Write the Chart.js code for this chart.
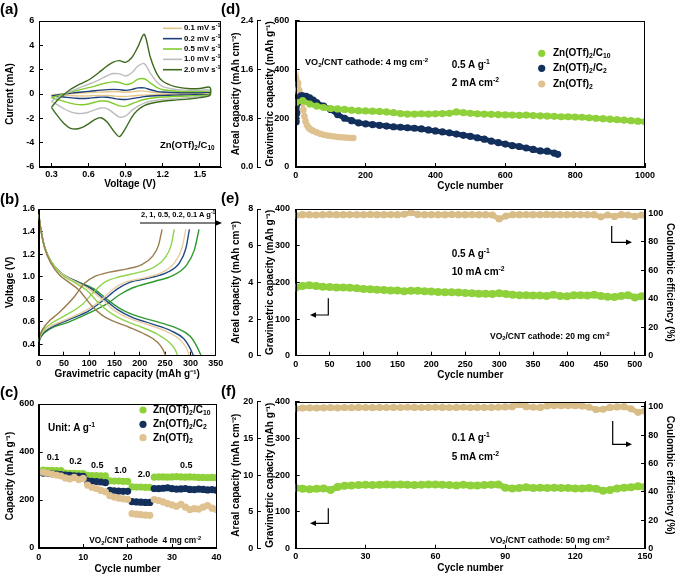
<!DOCTYPE html>
<html>
<head>
<meta charset="utf-8">
<script src="https://cdn.jsdelivr.net/npm/chart.js@4.4.1/dist/chart.umd.min.js"></script>
<style>
body { margin: 0; background: #fff; }
#fig { position: relative; width: 677px; height: 576px; overflow: hidden; font-family: "Liberation Sans", Arial, sans-serif; font-weight: bold; color: #000; }
#fig canvas { position: absolute; }
.t { position: absolute; line-height: 1; white-space: nowrap; transform: translateY(-50%); }
.t sub { font-size: .68em; vertical-align: -0.3em; line-height: 0; }
.t sup { font-size: .68em; vertical-align: 0.55em; line-height: 0; }
#ov { position: absolute; left: 0; top: 0; }
</style>
</head>
<body>
<div id="fig">
  <canvas id="ca" width="230" height="192" style="left:0;top:0"></canvas>
  <canvas id="cb" width="230" height="192" style="left:0;top:192px"></canvas>
  <canvas id="cc" width="230" height="192" style="left:0;top:384px"></canvas>
  <canvas id="cd" width="447" height="192" style="left:230px;top:0"></canvas>
  <canvas id="ce" width="447" height="192" style="left:230px;top:192px"></canvas>
  <canvas id="cf" width="447" height="192" style="left:230px;top:384px"></canvas>
  <svg id="ov" width="677" height="576"></svg>
</div>
<script>
const FONT = '"Liberation Sans", Arial, Helvetica, sans-serif';

/* COLOURS */
const GREEN = "#8fd13a";
const NAVY = "#13305c";
const TAN = "#dfc28f";

/* (a) CV DATA */
const aRates = ["0.1", "0.2", "0.5", "1.0", "2.0"];
const aColors = ["#e6c688", "#1d3f7c", "#80cc2c", "#bdbdbd", "#3d6b1d"];
const aTicksX = [0.3, 0.6, 0.9, 1.2, 1.5];
const aTicksY = [-6, -4, -2, 0, 2, 4, 6];
const aUpV = [0.3, 0.35, 0.4, 0.45, 0.5, 0.55, 0.6, 0.65, 0.7, 0.75, 0.8, 0.85, 0.9, 0.95, 1.0, 1.05, 1.1, 1.15, 1.2, 1.3, 1.4, 1.5, 1.58];
const aDnV = [1.58, 1.5, 1.4, 1.3, 1.2, 1.1, 1.05, 1.0, 0.95, 0.9, 0.85, 0.8, 0.75, 0.7, 0.65, 0.6, 0.55, 0.5, 0.45, 0.4, 0.35, 0.3];
const aUp01 = [-0.06, -0.03, 0.0, 0.03, 0.06, 0.09, 0.11, 0.14, 0.16, 0.18, 0.2, 0.18, 0.15, 0.19, 0.25, 0.24, 0.16, 0.1, 0.08, 0.06, 0.05, 0.05, 0.06];
const aDn01 = [-0.01, -0.02, -0.03, -0.04, -0.05, -0.07, -0.09, -0.12, -0.16, -0.2, -0.2, -0.16, -0.12, -0.11, -0.13, -0.15, -0.16, -0.15, -0.13, -0.1, -0.08, -0.06];
const aUp02 = [-0.15, -0.08, 0.0, 0.06, 0.12, 0.17, 0.22, 0.27, 0.32, 0.36, 0.38, 0.36, 0.3, 0.38, 0.5, 0.5, 0.35, 0.22, 0.16, 0.12, 0.1, 0.1, 0.12];
const aDn02 = [-0.03, -0.05, -0.07, -0.09, -0.12, -0.17, -0.22, -0.3, -0.38, -0.45, -0.43, -0.35, -0.27, -0.26, -0.3, -0.35, -0.37, -0.35, -0.3, -0.25, -0.2, -0.15];
const aUp05 = [-0.3, -0.15, 0.0, 0.15, 0.28, 0.4, 0.52, 0.65, 0.8, 0.92, 1.0, 0.95, 0.78, 0.9, 1.22, 1.25, 0.9, 0.55, 0.35, 0.25, 0.2, 0.2, 0.22];
const aDn05 = [-0.06, -0.12, -0.16, -0.2, -0.25, -0.35, -0.45, -0.6, -0.8, -1.0, -0.98, -0.78, -0.6, -0.58, -0.68, -0.82, -0.88, -0.85, -0.75, -0.6, -0.45, -0.3];
const aUp10 = [-0.6, -0.3, -0.05, 0.2, 0.4, 0.6, 0.8, 1.0, 1.25, 1.5, 1.68, 1.65, 1.48, 1.75, 2.3, 2.5, 1.7, 1.0, 0.6, 0.38, 0.3, 0.3, 0.32];
const aDn10 = [-0.12, -0.22, -0.3, -0.38, -0.45, -0.6, -0.75, -1.0, -1.35, -1.8, -1.9, -1.55, -1.2, -1.15, -1.3, -1.5, -1.6, -1.58, -1.45, -1.2, -0.9, -0.6];
const aUp20 = [-1.1, -0.5, -0.05, 0.35, 0.65, 0.9, 1.15, 1.5, 1.9, 2.3, 2.62, 2.74, 2.6, 3.0, 3.9, 4.9, 3.0, 1.7, 1.05, 0.6, 0.45, 0.45, 0.55];
const aDn20 = [-0.1, -0.3, -0.42, -0.5, -0.6, -0.78, -0.95, -1.3, -1.9, -2.8, -3.5, -3.0, -2.3, -1.95, -2.1, -2.45, -2.75, -2.88, -2.8, -2.4, -1.8, -1.1];

/* (b) GCD DATA  [capacity, voltage] */
const bLabels = ["2", "1", "0.5", "0.2", "0.1"];
const bColors = ["#9b7c4f", "#8fd44c", "#e8cca0", "#1f4a86", "#2e9a2e"];
const bTicksX = [0, 50, 100, 150, 200, 250, 300, 350];
const bTicksY = [0.4, 0.6, 0.8, 1.0, 1.2, 1.4, 1.6];
const bChg2 = [[0, 0.44], [4, 0.5], [15, 0.58], [40, 0.68], [70, 0.82], [90, 0.94], [110, 1.0], [140, 1.04], [175, 1.07], [205, 1.11], [225, 1.18], [237, 1.28], [244, 1.42]];
const bChg1 = [[0, 0.44], [5, 0.5], [20, 0.57], [50, 0.65], [85, 0.75], [110, 0.87], [130, 0.95], [160, 1.0], [200, 1.04], [230, 1.09], [250, 1.17], [262, 1.28], [268, 1.42]];
const bChg05 = [[0, 0.43], [5, 0.49], [20, 0.55], [60, 0.63], [100, 0.72], [125, 0.8], [150, 0.9], [170, 0.95], [210, 0.99], [245, 1.04], [268, 1.12], [283, 1.25], [291, 1.42]];
const bChg02 = [[0, 0.42], [5, 0.48], [20, 0.54], [60, 0.62], [100, 0.7], [130, 0.8], [155, 0.89], [180, 0.95], [220, 0.99], [255, 1.04], [278, 1.12], [291, 1.25], [298, 1.42]];
const bChg01 = [[0, 0.42], [5, 0.47], [20, 0.53], [60, 0.6], [100, 0.68], [135, 0.76], [160, 0.84], [185, 0.9], [230, 0.96], [265, 1.01], [292, 1.1], [308, 1.24], [317, 1.42]];
const bDis2 = [[0, 1.56], [5, 1.4], [12, 1.25], [24, 1.12], [42, 1.01], [60, 0.95], [80, 0.88], [105, 0.74], [125, 0.66], [145, 0.61], [180, 0.55], [210, 0.49], [235, 0.42], [245, 0.36], [251, 0.3]];
const bDis1 = [[0, 1.55], [5, 1.4], [12, 1.26], [25, 1.13], [45, 1.02], [70, 0.95], [95, 0.88], [120, 0.76], [145, 0.67], [170, 0.61], [205, 0.55], [235, 0.49], [258, 0.42], [269, 0.36], [275, 0.3]];
const bDis05 = [[0, 1.55], [5, 1.4], [12, 1.26], [25, 1.13], [45, 1.03], [75, 0.95], [100, 0.89], [125, 0.8], [150, 0.7], [180, 0.63], [220, 0.57], [255, 0.51], [280, 0.44], [292, 0.37], [298, 0.3]];
const bDis02 = [[0, 1.55], [5, 1.4], [12, 1.26], [25, 1.13], [45, 1.03], [78, 0.95], [105, 0.89], [130, 0.8], [155, 0.71], [185, 0.64], [225, 0.58], [262, 0.52], [287, 0.45], [299, 0.37], [306, 0.3]];
const bDis01 = [[0, 1.55], [5, 1.4], [12, 1.26], [25, 1.13], [45, 1.03], [80, 0.95], [110, 0.89], [135, 0.8], [160, 0.72], [195, 0.65], [235, 0.6], [275, 0.54], [300, 0.47], [313, 0.38], [321, 0.3]];

/* (c) RATE DATA */
const cCycles = [1, 2, 3, 4, 5, 6, 7, 8, 9, 10, 11, 12, 13, 14, 15, 16, 17, 18, 19, 20, 21, 22, 23, 24, 25, 26, 27, 28, 29, 30, 31, 32, 33, 34, 35, 36, 37, 38, 39, 40];
const cC10 = [325, 324, 324, 323, 323, 312, 311, 311, 310, 310, 303, 302, 302, 301, 301, 280, 279, 279, 278, 278, 255, 254, 254, 253, 253, 295, 296, 296, 295, 296, 297, 296, 295, 296, 295, 294, 294, 293, 294, 293];
const cC2 = [312, 311, 309, 308, 306, 304, 303, 301, 300, 299, 280, 278, 277, 275, 272, 240, 238, 237, 236, 236, 193, 192, 191, 190, 190, 248, 247, 249, 251, 247, 245, 246, 248, 244, 243, 245, 244, 242, 243, 241];
const cPure = [316, 312, 308, 304, 300, 292, 288, 294, 285, 290, 262, 252, 248, 240, 234, 218, 212, 208, 205, 203, 143, 141, 139, 137, 136, 202, 198, 192, 185, 180, 174, 182, 170, 160, 164, 162, 170, 177, 166, 160];
const cTicksX = [0, 10, 20, 30, 40];
const cTicksY = [0, 200, 400, 600];

/* (d) LONG CYCLING 4 mg cm-2 */
const dCycG = [1, 20, 40, 60, 80, 100, 120, 140, 160, 180, 200, 220, 240, 260, 280, 300, 320, 340, 360, 380, 400, 420, 440, 460, 480, 500, 520, 540, 560, 580, 600, 620, 640, 660, 680, 700, 720, 740, 760, 780, 800, 820, 840, 860, 880, 900, 920, 940, 960, 980, 1000];
const dC10 = [265, 272, 258, 250, 244, 240, 238, 236, 233, 231, 230, 229, 228, 226, 223, 219, 217, 217, 218, 217, 218, 219, 220, 226, 223, 220, 218, 217, 216, 215, 214, 213, 212, 213, 211, 210, 209, 208, 206, 206, 205, 204, 202, 200, 198, 196, 194, 192, 190, 188, 186];
const dCycN = [1, 3, 5, 10, 15, 20, 30, 40, 50, 60, 80, 100, 120, 140, 160, 180, 200, 220, 240, 260, 280, 300, 320, 340, 360, 380, 400, 420, 440, 460, 480, 500, 520, 540, 560, 580, 600, 620, 640, 660, 680, 700, 720, 740, 750];
const dC2 = [186, 221, 262, 285, 292, 292, 290, 284, 274, 264, 250, 236, 215, 200, 190, 181, 177, 174, 171, 168, 165, 163, 161, 159, 156, 152, 148, 144, 140, 135, 130, 126, 120, 114, 106, 100, 94, 88, 84, 78, 72, 66, 65, 57, 52];
const dCycP = [1, 3, 5, 7, 10, 13, 16, 19, 22, 25, 28, 32, 36, 40, 45, 50, 60, 70, 80, 90, 100, 110, 120, 130, 140, 150, 160, 165];
const dPure = [310, 318, 322, 343, 316, 300, 285, 262, 235, 208, 188, 172, 163, 157, 152, 148, 142, 136, 132, 129, 127, 125, 123, 122, 121, 120, 119, 119];
const dTicksX = [0, 200, 400, 600, 800, 1000];
const dTicksY = [0, 200, 400, 600];
const dTicksA = [0, 0.8, 1.6, 2.4];

/* (e) 20 mg cm-2 */
const eCyc = [0, 10, 20, 30, 40, 50, 60, 70, 80, 90, 100, 110, 120, 130, 140, 150, 160, 170, 180, 190, 200, 210, 220, 230, 240, 250, 260, 270, 280, 290, 300, 310, 320, 330, 340, 350, 360, 370, 380, 390, 400, 410, 420, 430, 440, 450, 460, 470, 480, 490, 500, 510, 520];
const eC10 = [186, 190, 192, 190, 188, 187, 186, 186, 185, 184, 182, 181, 180, 179, 178, 178, 176, 177, 177, 176, 175, 174, 173, 173, 172, 171, 170, 169, 169, 168, 170, 168, 166, 165, 165, 164, 164, 163, 166, 163, 162, 165, 165, 164, 166, 163, 161, 160, 163, 165, 159, 162, 162];
const eCE = [98.5, 99, 99, 98.8, 99, 99.2, 99, 99, 99.1, 99, 99, 99.2, 99, 99, 99.1, 99, 99.3, 100.5, 99.2, 99, 99.1, 99, 99, 99.2, 99, 99, 99.1, 99, 99, 98.8, 96, 98, 99, 99, 99.1, 99, 99, 99.2, 99, 99, 99, 99.1, 99, 99, 99, 97.5, 98.8, 97.8, 99, 98.8, 97.8, 98.8, 99];
const eTicksX = [0, 50, 100, 150, 200, 250, 300, 350, 400, 450, 500];
const eTicksY = [0, 100, 200, 300, 400];
const eTicksA = [0, 2, 4, 6, 8];

/* (f) 50 mg cm-2 */
const fCyc = [0, 3, 6, 9, 12, 15, 18, 21, 24, 27, 30, 33, 36, 39, 42, 45, 48, 51, 54, 57, 60, 63, 66, 69, 72, 75, 78, 81, 84, 87, 90, 93, 96, 99, 102, 105, 108, 111, 114, 117, 120, 123, 126, 129, 132, 135, 138, 141, 144, 147, 150];
const fC10 = [165, 163, 162, 163, 164, 160, 168, 171, 172, 173, 174, 173, 174, 175, 174, 175, 174, 173, 174, 175, 175, 174, 173, 172, 174, 172, 172, 173, 174, 175, 166, 164, 165, 167, 165, 166, 165, 166, 165, 165, 164, 164, 165, 163, 158, 160, 164, 166, 167, 170, 168];
const fCE = [98.5, 99, 99.2, 99, 99.2, 99.3, 99.2, 99.4, 99.3, 99.5, 99.4, 99.3, 99.5, 99.4, 99.5, 99.4, 99.6, 99.5, 99.4, 99.5, 99.6, 99.5, 99.4, 99.5, 99.6, 99.4, 99.5, 99.4, 99.5, 99.6, 99.8, 100, 101.5, 100, 99.6, 99.5, 100.4, 100.8, 100.7, 100.8, 100.7, 100.5, 99.6, 98, 98.2, 99.5, 99.8, 100, 98.5, 96, 97];
const fTicksX = [0, 30, 60, 90, 120, 150];
const fTicksA = [0, 5, 10, 15, 20];
const ceTicks = [0, 20, 40, 60, 80, 100];

/* HELPERS */
function pts(xs, ys) {
    return xs.map((x, i) => ({ x, y: ys[i] }));
}

function pairs(list) {
    return list.map(p => ({ x: p[0], y: p[1] }));
}

function lineSet(data, color, width, tension, mono) {
    return { data, showLine: true, borderColor: color, borderWidth: width, pointRadius: 0,
        tension, cubicInterpolationMode: mono ? "monotone" : "default", fill: false };
}

function dotSet(data, color, r, lw, yAxisID) {
    return { data, showLine: lw > 0, borderColor: color, borderWidth: lw, pointRadius: r,
        pointBackgroundColor: color, pointBorderWidth: 0, yAxisID: yAxisID || "y", tension: 0 };
}

function axis(o) {
    const horiz = o.pos === "bottom";
    return {
        type: "linear",
        position: o.pos,
        min: o.min,
        max: o.max,
        weight: o.weight || 0,
        afterBuildTicks: s => { s.ticks = o.ticks.map(v => ({ value: v })); },
        afterFit: s => { if (horiz) s.height = o.size; else s.width = o.size; },
        grid: { drawOnChartArea: false, drawTicks: true, tickLength: -4, color: "#000", lineWidth: 1 },
        border: { display: true, color: "#000", width: 1 },
        ticks: {
            padding: o.pad, color: "#000", maxRotation: 0, autoSkip: false,
            font: { family: FONT, size: 9, weight: "bold" },
            callback: v => o.fmt ? o.fmt(v) : String(v)
        },
        title: {
            display: !!o.title, text: o.title, color: "#000",
            font: { family: FONT, size: 10, weight: "bold" },
            padding: { top: o.tp || 0, bottom: o.tp || 0 }
        }
    };
}

/* FRAME round the plot */
const framePlugin = {
    id: "frame",
    afterDatasetsDraw(chart) {
        const a = chart.chartArea, ctx = chart.ctx;
        ctx.save();
        ctx.strokeStyle = "#000";
        ctx.lineWidth = 1;
        ctx.strokeRect(Math.round(a.left) + 0.5, Math.round(a.top) + 0.5,
            Math.round(a.right - a.left) - 1, Math.round(a.bottom - a.top) - 1);
        ctx.restore();
    }
};

function makeChart(id, datasets, scales, pad) {
    return new Chart(document.getElementById(id), {
        type: "scatter",
        data: { datasets },
        options: {
            responsive: false,
            animation: false,
            devicePixelRatio: 1,
            layout: { padding: Object.assign({ top: 0, right: 0, bottom: 0, left: 0 }, pad) },
            plugins: { legend: { display: false }, tooltip: { enabled: false } },
            scales
        },
        plugins: [framePlugin]
    });
}

/* (a) */
const aLoops = [[aUp01, aDn01], [aUp02, aDn02], [aUp05, aDn05], [aUp10, aDn10], [aUp20, aDn20]]
    .map(([u, d]) => pts(aUpV, u).concat(pts(aDnV, d)));
makeChart("ca", aLoops.map((l, i) => lineSet(l, aColors[i], 1.4, 0.3)).reverse(), {
    x: axis({ pos: "bottom", min: 0.2, max: 1.67, ticks: aTicksX, size: 25, pad: 6, fmt: v => v.toFixed(1), title: "Voltage (V)", tp: 2 }),
    y: axis({ pos: "left", min: -6, max: 6, ticks: aTicksY, size: 39, pad: 8.7, title: "Current (mA)", tp: 4 })
}, { top: 21, right: 9 });

/* (b) */
const bCurves = [[bChg2, bDis2], [bChg1, bDis1], [bChg05, bDis05], [bChg02, bDis02], [bChg01, bDis01]];
const bSets = [];
bCurves.forEach(([c, d], i) => {
    bSets.push(lineSet(pairs(c), bColors[i], 1.4, 0.4, true));
    bSets.push(lineSet(pairs(d), bColors[i], 1.4, 0.4, true));
});
makeChart("cb", bSets, {
    x: axis({ pos: "bottom", min: 0, max: 350, ticks: bTicksX, size: 28.3, pad: 6.8, title: "Gravimetric capacity (mAh g\u207B\u00B9)", tp: 4 }),
    y: axis({ pos: "left", min: 0.3, max: 1.6, ticks: bTicksY, size: 38.7, pad: 7.7, fmt: v => v.toFixed(1), title: "Voltage (V)", tp: 4.7 })
}, { top: 17, right: 9 });

/* (c) */
makeChart("cc", [
    dotSet(pts(cCycles, cPure), TAN, 3.6, 0),
    dotSet(pts(cCycles, cC2), NAVY, 3.6, 0),
    dotSet(pts(cCycles, cC10), GREEN, 3.6, 0)
], {
    x: axis({ pos: "bottom", min: 0, max: 40, ticks: cTicksX, size: 28, pad: 8.5, title: "Cycle number", tp: 1 }),
    y: axis({ pos: "left", min: 0, max: 600, ticks: cTicksY, size: 38.7, pad: 8.4, title: "Capacity (mAh g\u207B\u00B9)", tp: 4.7 })
}, { top: 20, right: 9 });

/* (d) */
makeChart("cd", [
    dotSet(pts(dCycG, dC10), GREEN, 3.6, 5),
    dotSet(pts(dCycN, dC2), NAVY, 3.6, 5),
    dotSet(pts(dCycP, dPure), TAN, 3.3, 4)
], {
    x: axis({ pos: "bottom", min: 0, max: 1000, ticks: dTicksX, size: 25, pad: 7.5, title: "Cycle number", tp: 0 }),
    y: axis({ pos: "left", min: 0, max: 600, ticks: dTicksY, size: 38.7, pad: 10.4, title: "Gravimetric capacity (mAh g\u207B\u00B9)", tp: 7, weight: 0 }),
    y2: axis({ pos: "left", min: 0, max: 2.4, ticks: dTicksA, size: 27, pad: 7.7, fmt: v => v.toFixed(1), title: "Areal capacity (mAh cm\u207B\u00B2)", tp: 0, weight: 1 })
}, { top: 20.7, right: 32 });

/* (e) */
makeChart("ce", [
    dotSet(pts(eCyc, eCE), "#d9bd88", 3.6, 5, "yr"),
    dotSet(pts(eCyc, eC10), GREEN, 4, 6)
], {
    x: axis({ pos: "bottom", min: 0, max: 515, ticks: eTicksX, size: 28.3, pad: 7.8, title: "Cycle number", tp: 2.3 }),
    y: axis({ pos: "left", min: 0, max: 400, ticks: eTicksY, size: 38.7, pad: 9.7, title: "Gravimetric capacity (mAh g\u207B\u00B9)", tp: 7, weight: 0 }),
    y2: axis({ pos: "left", min: 0, max: 8, ticks: eTicksA, size: 27, pad: 7.7, title: "Areal capacity (mAh cm\u207B\u00B2)", tp: 0, weight: 1 }),
    yr: axis({ pos: "right", min: 0, max: 103, ticks: ceTicks, size: 32, pad: 7.3, title: "Coulombic efficiency (%)", tp: 1.7 })
}, { top: 17 });

/* (f) */
makeChart("cf", [
    dotSet(pts(fCyc, fCE), "#d9bd88", 3.6, 5, "yr"),
    dotSet(pts(fCyc, fC10), GREEN, 4, 6)
], {
    x: axis({ pos: "bottom", min: 0, max: 150, ticks: fTicksX, size: 27.3, pad: 6.5, title: "Cycle number", tp: 1.7 }),
    y: axis({ pos: "left", min: 0, max: 400, ticks: eTicksY, size: 38.7, pad: 9.7, title: "Gravimetric capacity (mAh g\u207B\u00B9)", tp: 7, weight: 0 }),
    y2: axis({ pos: "left", min: 0, max: 20, ticks: fTicksA, size: 27, pad: 7.7, title: "Areal capacity (mAh cm\u207B\u00B2)", tp: 0, weight: 1 }),
    yr: axis({ pos: "right", min: 0, max: 103.5, ticks: ceTicks, size: 32, pad: 7.3, title: "Coulombic efficiency (%)", tp: 1.7 })
}, { top: 17.7 });

/* TEXT NOTES: [html, left, centreY, size] */
const zn10 = "Zn(OTf)<sub>2</sub>/C<sub>10</sub>";
const zn2 = "Zn(OTf)<sub>2</sub>/C<sub>2</sub>";
const zn = "Zn(OTf)<sub>2</sub>";
const notes = [
    ["(a)", 0, 8, 15], ["(b)", 0, 198, 15], ["(c)", 0, 391, 15],
    ["(d)", 221, 8, 15], ["(e)", 221, 197, 15], ["(f)", 221, 390, 15],
    ["2, 1, 0.5, 0.2, 0.1 A g<sup>-1</sup>", 141, 215, 7.5],
    [zn10, 160, 145, 9.5],
    [zn10, 153, 410, 10], [zn2, 153, 424.3, 10], [zn, 153, 437.7, 10],
    ["Unit: A g<sup>-1</sup>", 48, 427.7, 10],
    ["0.1", 46.7, 456.7, 9], ["0.2", 69.3, 461, 9], ["0.5", 91, 465, 9],
    ["1.0", 114.3, 470, 9], ["2.0", 137.7, 474, 9], ["0.5", 180, 465, 9],
    ["VO<sub>2</sub>/CNT cathode&nbsp; 4 mg cm<sup>-2</sup>", 89.3, 540, 8.3],
    ["VO<sub>2</sub>/CNT cathode: 4 mg cm<sup>-2</sup>", 305, 63.3, 9.1],
    ["0.5 A g<sup>-1</sup>", 451.7, 65, 10], ["2 mA cm<sup>-2</sup>", 451.7, 83.3, 10],
    [zn10, 553, 53.3, 10], [zn2, 553, 68.3, 10], [zn, 553, 84, 10],
    ["0.5 A g<sup>-1</sup>", 451.7, 254, 10], ["10 mA cm<sup>-2</sup>", 451.7, 271.7, 10],
    ["VO<sub>2</sub>/CNT cathode: 20 mg cm<sup>-2</sup>", 490, 335.7, 8.5],
    ["0.1 A g<sup>-1</sup>", 451.7, 438.3, 10], ["5 mA cm<sup>-2</sup>", 451.7, 456.7, 10],
    ["VO<sub>2</sub>/CNT cathode: 50 mg cm<sup>-2</sup>", 490, 540, 8.5]
];
aRates.forEach((r, i) => notes.push([r + " mV s<sup>-1</sup>", 184, 28.3 + i * 10.35, 7.8]));

const fig = document.getElementById("fig");
notes.forEach(([html, x, y, size]) => {
    const d = document.createElement("div");
    d.className = "t";
    d.innerHTML = html;
    d.style.left = x + "px";
    d.style.top = y + "px";
    d.style.fontSize = size + "px";
    fig.appendChild(d);
});

/* OVERLAY: legend marks and arrows */
let svg = "";
aColors.forEach((c, i) => {
    const y = 28.3 + i * 10.35;
    svg += `<line x1="163" y1="${y}" x2="182" y2="${y}" stroke="${c}" stroke-width="1.6"/>`;
});
[[GREEN, 410], [NAVY, 424.3], [TAN, 437.7]].forEach(([c, y]) => {
    svg += `<circle cx="143" cy="${y}" r="3.6" fill="${c}"/>`;
});
[[GREEN, 53.3], [NAVY, 68.3], [TAN, 84]].forEach(([c, y]) => {
    svg += `<circle cx="541.7" cy="${y}" r="3.6" fill="${c}"/>`;
});
svg += `<line x1="140" y1="223" x2="216" y2="223" stroke="#000" stroke-width="1.2"/>`;
svg += `<polygon points="222,223 215,220 215,226" fill="#000"/>`;

function leftArrow(x, y1, y2, xEnd) {
    return `<polyline points="${x},${y1} ${x},${y2} ${xEnd + 5},${y2}" fill="none" stroke="#000" stroke-width="1.2"/>` +
        `<polygon points="${xEnd},${y2} ${xEnd + 6},${y2 - 2.8} ${xEnd + 6},${y2 + 2.8}" fill="#000"/>`;
}
function rightArrow(x, y1, y2, xEnd) {
    return `<polyline points="${x},${y1} ${x},${y2} ${xEnd - 5},${y2}" fill="none" stroke="#000" stroke-width="1.2"/>` +
        `<polygon points="${xEnd},${y2} ${xEnd - 6},${y2 - 2.8} ${xEnd - 6},${y2 + 2.8}" fill="#000"/>`;
}
svg += leftArrow(328.3, 298.3, 315, 310);
svg += rightArrow(611.7, 226, 242.3, 632);
svg += leftArrow(328.3, 508.3, 523.3, 310);
svg += rightArrow(612.7, 421, 444.3, 632);
document.getElementById("ov").innerHTML = svg;
</script>
</body>
</html>
